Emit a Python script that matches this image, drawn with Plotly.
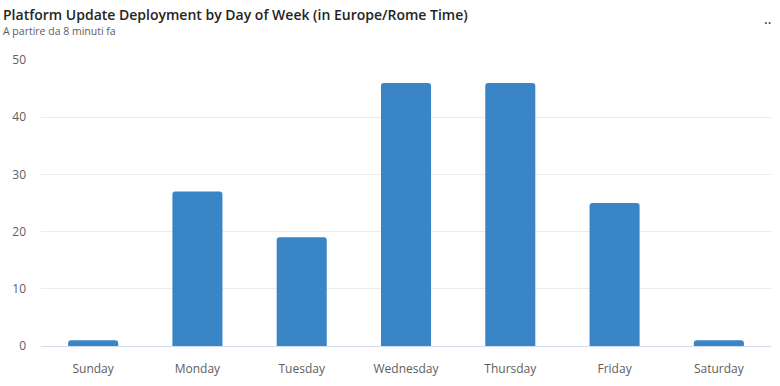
import plotly.graph_objects as go

days = ["Sunday", "Monday", "Tuesday", "Wednesday", "Thursday", "Friday", "Saturday"]
deployments = [1, 27, 19, 46, 46, 25, 1]
y_ticks = [0, 10, 20, 30, 40, 50]

title_text = "Platform Update Deployment by Day of Week (in Europe/Rome Time)"
subtitle_text = "A partire da 8 minuti fa"

fig = go.Figure(
    go.Bar(
        x=days,
        y=deployments,
        marker=dict(color="#3A85C6", cornerradius=3, line=dict(width=0)),
        hoverinfo="x+y",
    )
)

fig.update_layout(
    width=780,
    height=386,
    margin=dict(l=41, r=9, t=60, b=40, autoexpand=False),
    paper_bgcolor="white",
    plot_bgcolor="white",
    bargap=0.52,
    showlegend=False,
    font=dict(family="Open Sans, sans-serif", color="#605E5C", size=12),
)

fig.update_xaxes(
    showgrid=False,
    showline=True,
    linecolor="#D2DAEE",
    linewidth=1,
    ticks="",
    automargin=False,
    ticklabelstandoff=12,
    tickfont=dict(size=12, color="#605E5C"),
)
fig.update_yaxes(
    range=[0, 50],
    tickvals=y_ticks,
    showgrid=True,
    gridcolor="#EBEBEB",
    gridwidth=1,
    zeroline=False,
    showline=False,
    automargin=False,
    ticklabelstandoff=14,
    tickfont=dict(size=12, color="#605E5C"),
)

fig.add_annotation(
    text=title_text, xref="paper", yref="paper", x=-41/730, y=1,
    yshift=60 - 14, xshift=1, xanchor="left", yanchor="middle", showarrow=False,
    font=dict(family="Open Sans, sans-serif", size=14, color="#252423", weight=600),
)
fig.add_annotation(
    text=subtitle_text, xref="paper", yref="paper", x=-41/730, y=1,
    yshift=60 - 31, xshift=1, xanchor="left", yanchor="middle", showarrow=False,
    font=dict(family="Open Sans, sans-serif", size=10.5, color="#605E5C"),
)
fig.add_annotation(
    text="··", xref="paper", yref="paper", x=1, y=1,
    yshift=60 - 22, xshift=2, xanchor="right", yanchor="middle", showarrow=False,
    font=dict(family="Open Sans, sans-serif", size=14, color="#252423"),
)

fig.write_html(
    "out.html",
    config={"displayModeBar": False},
    post_script="document.body.style.margin='0';",
)
